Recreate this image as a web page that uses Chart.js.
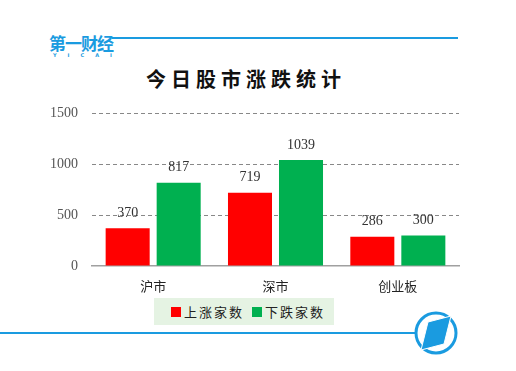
<!DOCTYPE html>
<html>
<head>
<meta charset="utf-8">
<script src="https://cdn.jsdelivr.net/npm/chart.js@4"></script>
<style>
  body { margin: 0; background: #fff; }
  #wrap { position: relative; width: 516px; height: 371px; overflow: hidden; }
  #chart { position: absolute; left: 0; top: 0; }
  .logo { position: absolute; left: 49px; top: 33px; color: #1a9be0; font: bold 17px "Noto Sans CJK SC"; letter-spacing: -1px; line-height: 20px; }
  .logo small { display: block; font: bold 5px "DejaVu Sans"; letter-spacing: 11px; line-height: 5px; margin-left: 4px; }
  .title { position: absolute; left: 0; width: 492px; top: 64px; text-align: center; font: 600 20px "Noto Sans CJK SC"; letter-spacing: 5px; color: #111; }
  .legend { position: absolute; left: 154px; top: 298px; width: 180px; height: 27px; background: #e5f3e3; font: 13px "Noto Sans CJK SC"; color: #222; letter-spacing: 2px; }
  .legend span { position: absolute; top: 4px; }
  .legend i { position: absolute; width: 10px; height: 10px; top: 9px; }
</style>
</head>
<body>
<div id="wrap">
  <svg width="516" height="371" style="position:absolute;left:0;top:0">
    <line x1="112" y1="38" x2="458" y2="38" stroke="#1a9be0" stroke-width="2"/>
    <line x1="0" y1="333" x2="416" y2="333" stroke="#1a9be0" stroke-width="2"/>
    <circle cx="436" cy="333" r="20" fill="none" stroke="#1a9be0" stroke-width="3"/>
    <polygon points="428,322 451,316 444,344 421,350" fill="#1a9be0" stroke="#fff" stroke-width="1"/>
  </svg>
  <div class="logo">第一财经<small>YICAI</small></div>
  <div class="title">今日股市涨跌统计</div>
  <canvas id="chart" width="516" height="371"></canvas>
  <div class="legend" id="legend"></div>
</div>
<script>
// Données du graphique
const categories = ["沪市", "深市", "创业板"];
const upCounts = [370, 719, 286];
const downCounts = [817, 1039, 300];
const seriesNames = ["上涨家数", "下跌家数"];
const yTicks = [0, 500, 1000, 1500];

const colors = ["#ff0000", "#00b050"];

// Étiquettes de valeurs au-dessus des barres
const valueLabels = {
  id: "valueLabels",
  afterDatasetsDraw(chart) {
    const ctx = chart.ctx;
    ctx.save();
    ctx.font = '14px "Liberation Serif"';
    ctx.fillStyle = "#333";
    ctx.textAlign = "center";
    ctx.textBaseline = "middle";
    chart.data.datasets.forEach((ds, i) => {
      chart.getDatasetMeta(i).data.forEach((bar, j) => {
        ctx.fillText(ds.data[j], bar.x, bar.y - 15);
      });
    });
    ctx.restore();
  },
};

new Chart(document.getElementById("chart").getContext("2d"), {
  type: "bar",
  data: {
    labels: categories,
    datasets: [
      { label: seriesNames[0], data: upCounts, backgroundColor: colors[0] },
      { label: seriesNames[1], data: downCounts, backgroundColor: colors[1] },
    ],
  },
  options: {
    responsive: false,
    animation: false,
    categoryPercentage: 0.834,
    barPercentage: 0.863,
    layout: { padding: { top: 113, right: 57, bottom: 75, left: 0 } },
    plugins: { legend: { display: false }, tooltip: { enabled: false } },
    scales: {
      x: {
        grid: { display: false, drawTicks: false },
        border: { color: "#a0a0a0", width: 1.5 },
        ticks: { padding: 12, color: "#222", font: { family: "Noto Sans CJK SC", size: 13 } },
        afterFit(axis) { axis.height = 30; },
      },
      y: {
        min: 0,
        max: 1500,
        afterBuildTicks(axis) { axis.ticks = yTicks.map((v) => ({ value: v })); },
        grid: {
          drawTicks: false,
          color: (c) => (c.tick.value === 0 ? "rgba(0,0,0,0)" : "#888"),
        },
        border: { display: false, dash: [4, 3] },
        ticks: {
          padding: 14,
          color: "#555",
          font: { family: "Liberation Serif", size: 14 },
          callback: (v) => String(v),
        },
        afterFit(axis) { axis.width = 92; },
      },
    },
  },
  plugins: [valueLabels],
});

// Légende HTML
const legend = document.getElementById("legend");
const pos = [[17, 30], [98, 111]];
seriesNames.forEach((name, i) => {
  legend.insertAdjacentHTML("beforeend",
    `<i style="left:${pos[i][0]}px;background:${colors[i]}"></i><span style="left:${pos[i][1]}px">${name}</span>`);
});
</script>
</body>
</html>
